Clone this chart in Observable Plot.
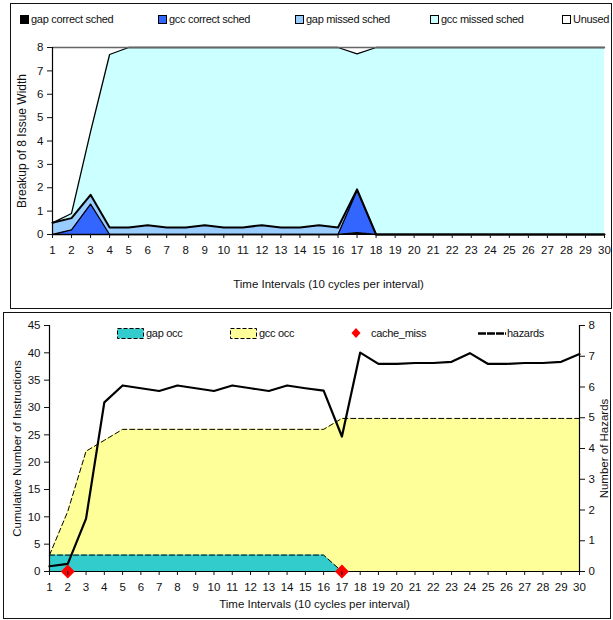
<!DOCTYPE html>
<html>
<head>
<meta charset="utf-8">
<script src="https://cdn.jsdelivr.net/npm/d3@7"></script>
<script src="https://cdn.jsdelivr.net/npm/@observablehq/plot@0.6"></script>
<style>
  body { margin: 0; background: #fff; font-family: "Liberation Sans", Arial, sans-serif; }
  #page { position: relative; width: 613px; height: 620px; overflow: hidden; }
  .panel { position: absolute; border: 1.5px solid #111; box-sizing: border-box; }
  .chart { position: absolute; left: 0; }
  .leg { position: absolute; font-size: 11px; letter-spacing: -0.3px; color: #111; white-space: nowrap; display: flex; align-items: center; z-index: 2; }
  .sw { display: inline-block; width: 7px; height: 7px; border: 1px solid #000; margin-right: 2px; }
</style>
</head>
<body>
<div id="page">
  <div class="panel" style="left:10px; top:3px; width:602px; height:306px;"></div>
  <div class="panel" style="left:3px; top:312px; width:608px; height:307px;"></div>
  <div id="top" class="chart" style="top:30px;"></div>
  <div id="bottom" class="chart" style="top:315px;"></div>
  <div id="legends"></div>
</div>
<script>
// ---------- data ----------
const intervals = d3.range(1, 31);
const xTicks = intervals;
const topYTicks = [0, 1, 2, 3, 4, 5, 6, 7, 8];
const leftYTicks = [0, 5, 10, 15, 20, 25, 30, 35, 40, 45];
const rightYTicks = [0, 1, 2, 3, 4, 5, 6, 7, 8];

const topSeries = ["gap correct sched", "gcc correct sched", "gap missed sched", "gcc missed sched", "Unused"];
const topColors = ["#000000", "#3366FF", "#99CCFF", "#CCFFFF", "#FFFFFF"];

const gapCorrect = [0,0,0,0,0,0,0,0,0,0,0,0,0,0,0,0,0.08,0,0,0,0,0,0,0,0,0,0,0,0,0];
const gccCorrect = [0,0.2,1.3,0,0,0,0,0,0,0,0,0,0,0,0,0,1.8,0,0,0,0,0,0,0,0,0,0,0,0,0];
const gapMissed  = [0.5,0.5,0.4,0.3,0.3,0.4,0.3,0.3,0.4,0.3,0.3,0.4,0.3,0.3,0.4,0.3,0.05,0,0,0,0,0,0,0,0,0,0,0,0,0];
const gccMissed  = [0,0.2,2.7,7.4,7.7,7.6,7.7,7.7,7.6,7.7,7.7,7.6,7.7,7.7,7.6,7.7,5.8,8,8,8,8,8,8,8,8,8,8,8,8,8];
const unused     = [7.5,7.1,3.6,0.3,0,0,0,0,0,0,0,0,0,0,0,0,0.27,0,0,0,0,0,0,0,0,0,0,0,0,0];

const bottomSeries = ["gap occ", "gcc occ", "cache_miss", "hazards"];
const gapOcc  = [3,3,3,3,3,3,3,3,3,3,3,3,3,3,3,3,0,0,0,0,0,0,0,0,0,0,0,0,0,0];
const gccOcc  = [3,11,22,24,26,26,26,26,26,26,26,26,26,26,26,26,28,28,28,28,28,28,28,28,28,28,28,28,28,28];
const hazards = [0.17,0.25,1.72,5.5,6.05,5.96,5.87,6.05,5.96,5.87,6.05,5.96,5.87,6.05,5.96,5.88,4.39,7.12,6.75,6.75,6.78,6.78,6.82,7.1,6.75,6.75,6.78,6.78,6.82,7.07];
const cacheMiss = [2, 17];

const topXLabel = "Time Intervals (10 cycles per interval)";
const topYLabel = "Breakup of 8 Issue Width";
const bottomYLabel = "Cumulative Number of Instructions";
const rightYLabel = "Number of Hazards";

// ---------- top chart ----------
const topValues = [gapCorrect, gccCorrect, gapMissed, gccMissed, unused];
const topData = topSeries.flatMap((s, i) => intervals.map((x, j) => ({x, series: s, value: topValues[i][j]})));

const font = {fontFamily: "'Liberation Sans', Arial, sans-serif", fontSize: "11.5px", color: "#111", background: "transparent"};

const topPlot = Plot.plot({
  width: 613, height: 264,
  marginLeft: 52, marginRight: 9, marginTop: 17, marginBottom: 60,
  style: font,
  x: {domain: [1, 30]},
  y: {domain: [0, 8]},
  color: {domain: topSeries, range: topColors},
  marks: [
    Plot.areaY(topData, {x: "x", y: "value", z: "series", fill: "series"}),
    Plot.lineY(topData, Plot.stackY2({x: "x", y: "value", z: "series",
      stroke: d => d.series === "Unused" ? "#666" : "#000",
      strokeWidth: d => d.series === "gap missed sched" ? 2 : 1.3})),
    Plot.ruleY([0], {stroke: "#000", strokeWidth: 1.2}),
    Plot.ruleX([1], {y1: 0, y2: 8, stroke: "#000", strokeWidth: 1.2}),
    Plot.axisX(xTicks, {tickSize: 4, tickPadding: 7, label: null, tickFormat: d => d}),
    Plot.axisY(topYTicks, {tickSize: 5, tickPadding: 4, label: null}),
    Plot.text([topXLabel], {frameAnchor: "bottom", textAnchor: "middle", lineAnchor: "middle", dy: 50}),
    Plot.text([topYLabel], {frameAnchor: "left", textAnchor: "middle", lineAnchor: "middle", rotate: -90, dx: -30, fontSize: 12})
  ]
});
document.getElementById("top").append(topPlot);

// ---------- bottom chart ----------
const k = 45 / 8;
const bottomData = intervals.map((x, i) => ({x, gap: gapOcc[i], gcc: gccOcc[i], haz: hazards[i]}));

const bottomPlot = Plot.plot({
  width: 613, height: 300,
  marginLeft: 49, marginRight: 34, marginTop: 10, marginBottom: 44,
  style: font,
  x: {domain: [1, 30]},
  y: {domain: [0, 45]},
  marks: [
    Plot.areaY(bottomData, {x: "x", y: "gcc", fill: "#FFFF99"}),
    Plot.areaY(bottomData, {x: "x", y: "gap", fill: "#33CCCC"}),
    Plot.lineY(bottomData, {x: "x", y: "gcc", stroke: "#000", strokeWidth: 1, strokeDasharray: "5,3"}),
    Plot.lineY(bottomData.filter(d => d.x <= 17), {x: "x", y: "gap", stroke: "#000", strokeWidth: 1, strokeDasharray: "5,3"}),
    Plot.ruleY([0], {stroke: "#000", strokeWidth: 1.2}),
    Plot.ruleX([1], {y1: 0, y2: 45, stroke: "#000", strokeWidth: 1.2}),
    Plot.ruleX([30], {y1: 0, y2: 45, stroke: "#000", strokeWidth: 1.2}),
    Plot.lineY(bottomData, {x: "x", y: d => d.haz * k, stroke: "#000", strokeWidth: 2.2}),
    Plot.dot(cacheMiss, {x: d => d, y: () => 0, symbol: "diamond2", r: 6.3, fill: "red", stroke: "none"}),
    Plot.axisX(xTicks, {tickSize: 4, tickPadding: 7, label: null, tickFormat: d => d}),
    Plot.axisY(leftYTicks, {tickSize: 5, tickPadding: 4, label: null}),
    Plot.axisY(rightYTicks.map(v => v * k), {anchor: "right", tickSize: 5, tickPadding: 4, label: null, tickFormat: d => Math.round(d / k)}),
    Plot.text([topXLabel], {frameAnchor: "bottom", textAnchor: "middle", lineAnchor: "middle", dy: 33}),
    Plot.text([bottomYLabel], {frameAnchor: "left", textAnchor: "middle", lineAnchor: "middle", rotate: -90, dx: -32}),
    Plot.text([rightYLabel], {frameAnchor: "right", textAnchor: "middle", lineAnchor: "middle", rotate: -90, dx: 25})
  ]
});
document.getElementById("bottom").append(bottomPlot);

// ---------- legends (HTML) ----------
const legends = document.getElementById("legends");
const topLegX = [20, 158, 295, 430, 562];
topSeries.forEach((s, i) => {
  const el = document.createElement("div");
  el.className = "leg";
  el.style.left = topLegX[i] + "px";
  el.style.top = "13px";
  el.innerHTML = `<span class="sw" style="background:${topColors[i]}"></span>${s}`;
  legends.append(el);
});
const botLegX = [117, 230, 349, 478];
const botSwatches = [
  `<svg width="27" height="11" style="margin-right:2px"><rect x="0.5" y="0.5" width="26" height="10" fill="#33CCCC" stroke="#000" stroke-dasharray="4,2"/></svg>`,
  `<svg width="27" height="11" style="margin-right:2px"><rect x="0.5" y="0.5" width="26" height="10" fill="#FFFF99" stroke="#000" stroke-dasharray="4,2"/></svg>`,
  `<svg width="14" height="12" style="margin-right:8px"><path d="M7,1 L11.5,6 L7,11 L2.5,6 Z" fill="red"/></svg>`,
  `<svg width="28" height="11" style="margin-right:1px"><line x1="0" y1="5.5" x2="28" y2="5.5" stroke="#000" stroke-width="2.5" stroke-dasharray="8,1"/></svg>`
];
bottomSeries.forEach((s, i) => {
  const el = document.createElement("div");
  el.className = "leg";
  el.style.left = botLegX[i] + "px";
  el.style.top = "327px";
  el.innerHTML = botSwatches[i] + s;
  legends.append(el);
});
</script>
</body>
</html>
